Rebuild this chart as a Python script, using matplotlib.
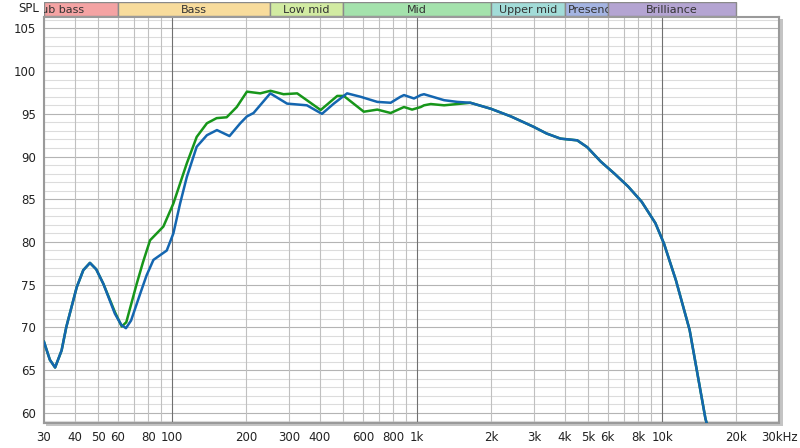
import matplotlib
matplotlib.use('Agg')
import matplotlib.pyplot as plt
from matplotlib.patches import Rectangle

# blue trace (Hz, dB)
blue_freq = [30, 31.7, 33.3, 35.4, 37, 40.8, 43.4, 46.2, 49, 52.4, 58.4, 62, 64.8, 68, 74, 78.7,
             83.9, 95.1, 101.2, 107.8, 114.8, 126, 138.7, 152.4, 171.5, 189.8, 202, 215, 251.6,
             294.5, 355, 409, 457, 518, 588, 688, 780, 855, 884, 971, 1035, 1067, 1289, 1459,
             1649, 1998, 2414, 2980, 3377, 3848, 4503, 4946, 5625, 6390, 7263, 8257, 9390,
             10180, 11390, 12950, 15030, 16000]
blue_spl = [68.3, 66.2, 65.3, 67.3, 70.05, 74.7, 76.7, 77.55, 76.8, 75.1, 71.6, 70.3, 69.9, 70.8,
            73.9, 76.1, 77.9, 79.0, 81.0, 84.5, 87.6, 91.15, 92.5, 93.1, 92.4, 93.9, 94.7, 95.1,
            97.4, 96.2, 96.0, 95.0, 96.2, 97.4, 97.0, 96.4, 96.3, 97.0, 97.2, 96.8, 97.2, 97.3,
            96.6, 96.4, 96.3, 95.6, 94.7, 93.5, 92.7, 92.1, 91.9, 91.1, 89.4, 88.0, 86.5, 84.7,
            82.2, 79.8, 75.5, 69.7, 59.3, 56.5]

# green trace (Hz, dB)
green_freq = [30, 31.7, 33.3, 35.4, 37, 40.8, 43.4, 46.2, 49, 52.4, 58.4, 62.3, 65, 71.7, 76,
              81.3, 92.1, 101.2, 114.8, 126, 138.7, 152, 167, 183.6, 202, 229, 252, 285, 324,
              404, 472, 502, 606, 688, 780, 884, 954, 1035, 1067, 1137, 1289, 1649, 1998, 2414,
              2980, 3377, 3848, 4503, 4946, 5625, 6390, 7263, 8257, 9390, 10180, 11390, 12950,
              15030, 16000]
green_spl = [68.3, 66.2, 65.3, 67.3, 70.05, 74.7, 76.7, 77.55, 76.8, 75.1, 71.8, 70.1, 70.6, 75.1,
             77.6, 80.2, 81.8, 84.5, 89.2, 92.3, 93.9, 94.5, 94.6, 95.8, 97.6, 97.4, 97.7, 97.3,
             97.4, 95.45, 97.1, 97.1, 95.25, 95.5, 95.1, 95.8, 95.5, 95.8, 96.0, 96.15, 96.0,
             96.3, 95.6, 94.7, 93.5, 92.7, 92.1, 91.9, 91.1, 89.4, 88.0, 86.5, 84.7, 82.2, 79.8,
             75.5, 69.7, 59.3, 56.5]

bands = ['Sub bass', 'Bass', 'Low mid', 'Mid', 'Upper mid', 'Presence', 'Brilliance']
band_edges = [20, 60, 250, 500, 2000, 4000, 6000, 20000]
band_colors = ['#f4a3a3', '#f8dc9c', '#d2eba2', '#a4e2ac', '#a2dcd8', '#a4b4e2', '#b4a4d2']

xticks = [30, 40, 50, 60, 80, 100, 200, 300, 400, 600, 800, 1000, 2000, 3000, 4000, 5000,
          6000, 8000, 10000, 20000, 30000]
xticklabels = ['30', '40', '50', '60', '80', '100', '200', '300', '400', '600', '800', '1k',
               '2k', '3k', '4k', '5k', '6k', '8k', '10k', '20k', '30kHz']

fig = plt.figure(figsize=(8, 4.48), dpi=100)
L, B, W, H = 44 / 800, 1 - 423 / 448, 735 / 800, 406.5 / 448

# drop shadow around the plot frame
fig.patches.append(Rectangle((L + 2 / 800, B - 3 / 448), W + 2 / 800, H, transform=fig.transFigure,
                             facecolor='#c4c4c4', edgecolor='none', zorder=-5))

ax = fig.add_axes([L, B, W, H])
ax.set_zorder(2)
ax.set_xscale('log')
ax.set_xlim(30, 30000)
ax.set_ylim(58.8, 106.4)

for v in range(59, 107):
    ax.axhline(v, color='#b4b4b4' if v % 5 == 0 else '#dcdcdc', lw=0.8, zorder=1)
minor_x = [f for d in (10, 100, 1000, 10000) for f in range(2 * d, 10 * d, d) if 30 <= f <= 30000]
for f in minor_x:
    ax.axvline(f, color='#c0c0c0', lw=0.8, zorder=1.5)
for f in (100, 1000, 10000):
    ax.axvline(f, color='#707070', lw=0.8, zorder=1.6)

ax.plot(green_freq, green_spl, color='#17961a', lw=1.8, zorder=3)
ax.plot(blue_freq, blue_spl, color='#1466b0', lw=1.8, zorder=4)

ax.set_xticks(xticks)
ax.set_xticklabels(xticklabels)
ax.set_xticks([], minor=True)
ax.set_yticks(range(60, 106, 5))
ax.tick_params(length=0, labelsize=8.5, colors='#222222', pad=6)
for s in ax.spines.values():
    s.set_color('#9a9a9a')
    s.set_linewidth(1.5)

# frequency band strip
bx = fig.add_axes([L, 1 - 16 / 448, W, 14 / 448])
bx.set_zorder(3)
bx.set_xscale('log')
bx.set_xlim(30, 30000)
bx.set_ylim(0, 1)
bx.axis('off')
for name, lo, hi, c in zip(bands, band_edges[:-1], band_edges[1:], band_colors):
    shown_lo = max(lo, 30)
    r = Rectangle((shown_lo, 0), hi - shown_lo, 1, facecolor=c, edgecolor='#8a8a8a', lw=1)
    bx.add_patch(r)
    if name == 'Presence':
        t = bx.text(lo * 1.03, 0.45, name, ha='left', va='center', fontsize=8, color='#333333')
    else:
        t = bx.text((lo * hi) ** 0.5, 0.45, name, ha='center', va='center', fontsize=8,
                    color='#333333')
    t.set_clip_path(r)
    t.set_clip_on(True)

fig.text(18 / 800, 1 - 9 / 448, 'SPL', ha='left', va='center', fontsize=8.5, color='#222222')

fig.savefig('out.png', dpi=100)
